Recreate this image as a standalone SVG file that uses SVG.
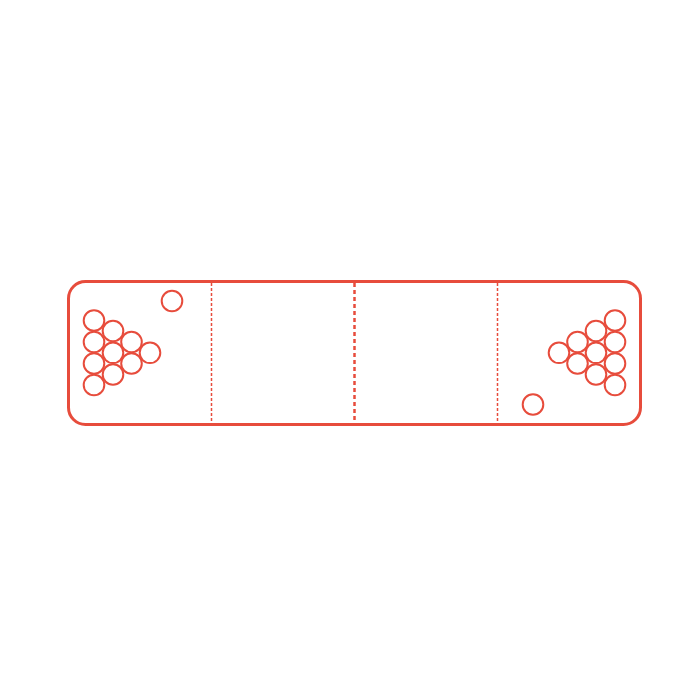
<svg xmlns="http://www.w3.org/2000/svg" width="700" height="700" viewBox="0 0 700 700">
<style>
.table{fill:none;stroke:#e74c3c;stroke-width:3}
.cup{fill:#fff;stroke:#e74c3c;stroke-width:2}
.div{stroke:#e74c3c;stroke-width:1.5;stroke-dasharray:3 2}
.mid{stroke:#e74c3c;stroke-width:2.5;stroke-dasharray:4 3}
</style>
<rect width="700" height="700" fill="#fff"/>
<g id="table">
<rect class="table" x="68.5" y="281.5" width="572" height="143" rx="17"/>
</g>
<g id="dividers">
<line class="div" x1="211.5" y1="283" x2="211.5" y2="423"/>
<line class="mid" x1="354.5" y1="283" x2="354.5" y2="423"/>
<line class="div" x1="497.5" y1="283" x2="497.5" y2="423"/>
</g>
<g id="left-cups">
<circle class="cup" cx="94" cy="320.5" r="10.3"/>
<circle class="cup" cx="94" cy="342" r="10.3"/>
<circle class="cup" cx="94" cy="363.5" r="10.3"/>
<circle class="cup" cx="94" cy="385" r="10.3"/>
<circle class="cup" cx="113" cy="331" r="10.3"/>
<circle class="cup" cx="113" cy="352.8" r="10.3"/>
<circle class="cup" cx="113" cy="374.5" r="10.3"/>
<circle class="cup" cx="131.5" cy="342" r="10.3"/>
<circle class="cup" cx="131.5" cy="363.5" r="10.3"/>
<circle class="cup" cx="150" cy="352.8" r="10.3"/>
<circle class="cup" cx="172" cy="301" r="10.3"/>
</g>
<g id="right-cups">
<circle class="cup" cx="615" cy="320.5" r="10.3"/>
<circle class="cup" cx="615" cy="342" r="10.3"/>
<circle class="cup" cx="615" cy="363.5" r="10.3"/>
<circle class="cup" cx="615" cy="385" r="10.3"/>
<circle class="cup" cx="596" cy="331" r="10.3"/>
<circle class="cup" cx="596" cy="352.8" r="10.3"/>
<circle class="cup" cx="596" cy="374.5" r="10.3"/>
<circle class="cup" cx="577.5" cy="342" r="10.3"/>
<circle class="cup" cx="577.5" cy="363.5" r="10.3"/>
<circle class="cup" cx="559" cy="352.8" r="10.3"/>
<circle class="cup" cx="533" cy="404.5" r="10.3"/>
</g>
</svg>
